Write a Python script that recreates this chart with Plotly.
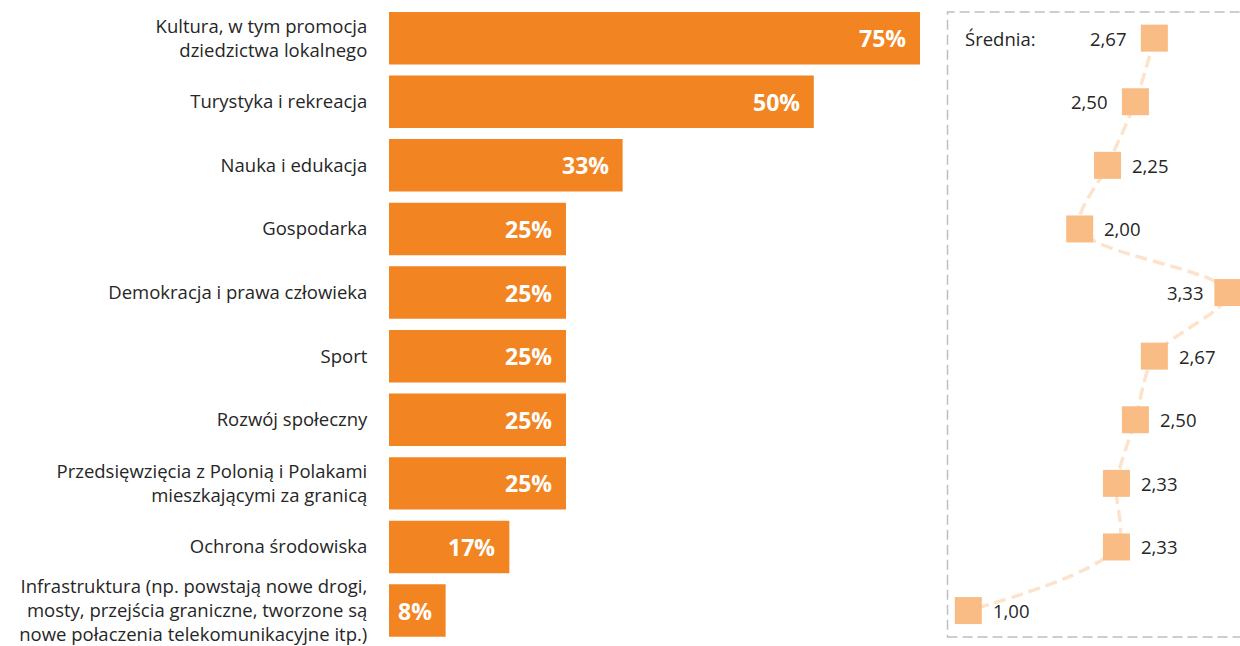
import plotly.graph_objects as go

categories = [
    "Kultura, w tym promocja<br>dziedzictwa lokalnego",
    "Turystyka i rekreacja",
    "Nauka i edukacja",
    "Gospodarka",
    "Demokracja i prawa człowieka",
    "Sport",
    "Rozwój społeczny",
    "Przedsięwzięcia z Polonią i Polakami<br>mieszkającymi za granicą",
    "Ochrona środowiska",
    "Infrastruktura (np. powstają nowe drogi,<br>mosty, przejścia graniczne, tworzone są<br>nowe połaczenia telekomunikacyjne itp.)",
]
# bar lengths as drawn in the picture, and the printed labels
bar_values = [75, 60, 33, 25, 25, 25, 25, 25, 17, 8]
bar_labels = ["75%", "50%", "33%", "25%", "25%", "25%", "25%", "25%", "17%", "8%"]
averages = [2.67, 2.50, 2.25, 2.00, 3.33, 2.67, 2.50, 2.33, 2.33, 1.00]
average_labels = ["2,67", "2,50", "2,25", "2,00", "3,33", "2,67", "2,50", "2,33", "2,33", "1,00"]

W, H = 1240, 646
L = 389
plot_w = W - L

BAR = "#F28522"
MARK = "#F9BC84"
LINE = "#FDE3CC"
TXT = "#262626"
FONT = "Open Sans"
MSIZE = 27

fig = go.Figure()

fig.add_trace(go.Bar(
    x=bar_values, y=categories, orientation="h",
    marker=dict(color=BAR, line=dict(width=0)),
    width=0.825, hoverinfo="skip",
))

fig.add_trace(go.Scatter(
    x=averages, y=categories, xaxis="x2", yaxis="y",
    mode="lines+markers",
    line=dict(color=LINE, width=3.5, dash="12px,6px", shape="spline", smoothing=0.9),
    marker=dict(symbol="square", size=MSIZE, color=MARK),
    hoverinfo="skip", cliponaxis=False,
))

# labels next to the squares: left of the marker for a few rows
left_gap = {0: 12, 1: 12, 4: 8}
for i, (v, lab, cat) in enumerate(zip(averages, average_labels, categories)):
    if i in left_gap:
        anchor, shift = "right", -(MSIZE / 2 + left_gap[i])
    else:
        anchor, shift = "left", MSIZE / 2 + 9
    fig.add_annotation(
        x=v, y=cat, xref="x2", yref="y", text=lab, showarrow=False,
        xanchor=anchor, xshift=shift,
        font=dict(family=FONT, size=18.5, color=TXT),
    )

for v, lab, cat in zip(bar_values, bar_labels, categories):
    fig.add_annotation(
        x=v, y=cat, xref="x", yref="y", text="<b>" + lab + "</b>",
        showarrow=False, xanchor="right", xshift=-12,
        font=dict(family=FONT, size=23, color="white"),
    )

fig.add_annotation(
    x=(963 - L) / plot_w, y=categories[0], xref="paper", yref="y",
    text="Średnia:", showarrow=False, xanchor="left",
    font=dict(family=FONT, size=18.5, color=TXT),
)

# dashed frame around the averages panel
fig.add_shape(
    type="rect", xref="paper", yref="paper",
    x0=(947.5 - L) / plot_w, x1=(1246 - L) / plot_w,
    y0=(H - 643) / H, y1=(H - 12) / H,
    line=dict(color="#BFBFBF", width=1.5, dash="10px,5px"),
)

px_per_pct = 531 / 75
x1_end = L + 75 * px_per_pct
px_per_unit = 111.4
x2_left, x2_right = 948, W
fig.update_layout(
    width=W, height=H,
    margin=dict(l=L, r=0, t=0, b=0),
    paper_bgcolor="white", plot_bgcolor="white",
    showlegend=False,
    font=dict(family=FONT, color=TXT),
    xaxis=dict(domain=[0, (x1_end - L) / plot_w], range=[0, 75],
               visible=False, fixedrange=True),
    xaxis2=dict(domain=[(x2_left - L) / plot_w, 1],
                range=[1.0 - (968.3 - x2_left) / px_per_unit,
                       1.0 + (x2_right - 968.3) / px_per_unit],
                anchor="y", visible=False, fixedrange=True),
    yaxis=dict(range=[9 + (H - 616.3) / 64.2, -38.5 / 64.2],
               showgrid=False, zeroline=False, showline=False,
               ticks="outside", ticklen=17, tickcolor="white",
               tickfont=dict(family=FONT, size=18.5, color=TXT),
               fixedrange=True),
)

fig.write_html("out.html", config={"displayModeBar": False},
               post_script="document.body.style.margin='0';")
